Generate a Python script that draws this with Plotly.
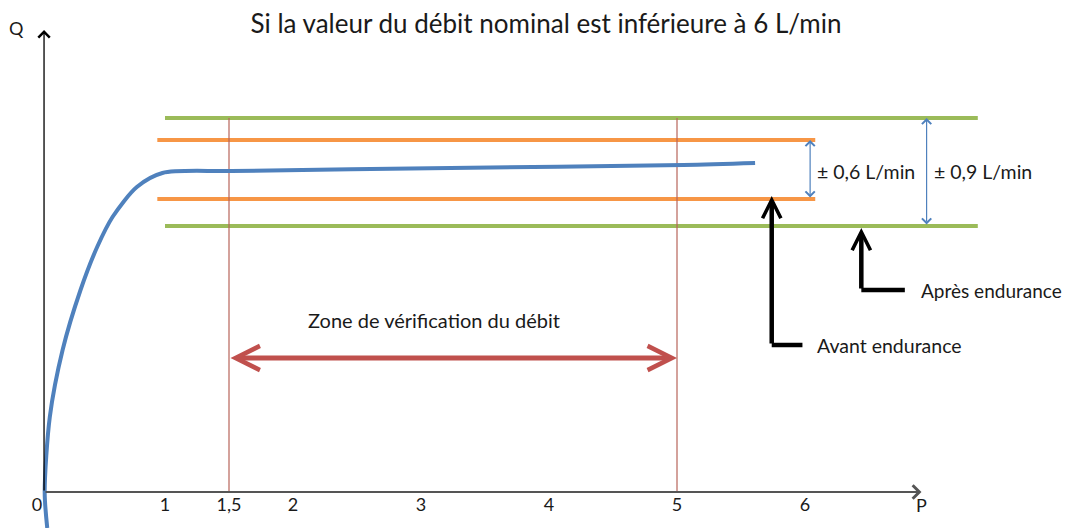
import plotly.graph_objects as go

# ---- data (schematic units) ----
tick_vals = [0, 1, 1.5, 2, 3, 4, 5, 6]
tick_text = ["0", "1", "1,5", "2", "3", "4", "5", "6"]

curve_p = [0.08, 0.06, 0.10, 0.20, 0.34, 0.47, 0.59, 0.78, 0.98, 1.52, 3.23, 5.05, 5.61]
curve_q = [-0.72, 0.0, 1.5, 2.84, 4.04, 4.9, 5.5, 6.1, 6.38, 6.42, 6.48, 6.54, 6.58]

green_q = [7.48, 5.32]          # après endurance (± 0,9 L/min)
green_p = [1.0, 7.35]
orange_q = [7.04, 5.86]         # avant endurance (± 0,6 L/min)
orange_p = [0.94, 6.08]

zone_p = [1.5, 5]               # zone de vérification du débit
zone_top = 7.48
zone_arrow_q = 2.68

tol_labels = ["± 0,6 L/min", "± 0,9 L/min"]
tol_arrow_p = [6.04, 6.95]
tol_label_p = [6.08, 6.99]
tol_label_q = 6.42

avant_p, avant_q_low, avant_q_tip, avant_p_end = 5.74, 2.94, 5.92, 5.98
apres_p, apres_q_low, apres_q_tip, apres_p_end = 6.44, 4.04, 5.28, 6.78

axis_p0 = 0.055
x_axis_end = 6.91
y_axis_end = 9.24

title = "Si la valeur du débit nominal est inférieure à 6 L/min"
zone_label = "Zone de vérification du débit"

GREEN = "#9bbb59"
ORANGE = "#f79646"
BLUE = "#4f81bd"
RED = "#c0504d"
FONT = "Lato"
TXT = "#1a1a1a"

# page body has an 8px margin: compensate so marks land where they should
OFF = 8
PX_X = 128.0
X0 = 37
PX_Y = 50.0
Y0 = 492

fig = go.Figure()

for q in green_q:
    fig.add_trace(go.Scatter(x=green_p, y=[q, q], mode="lines",
                             line=dict(color=GREEN, width=4), hoverinfo="skip"))
for q in orange_q:
    fig.add_trace(go.Scatter(x=orange_p, y=[q, q], mode="lines",
                             line=dict(color=ORANGE, width=4), hoverinfo="skip"))

for p in zone_p:
    fig.add_trace(go.Scatter(x=[p, p], y=[0, zone_top], mode="lines",
                             line=dict(color="#b8645a", width=1.2), hoverinfo="skip"))

fig.add_trace(go.Scatter(x=curve_p, y=curve_q, mode="lines",
                         line=dict(color=BLUE, width=4, shape="spline", smoothing=0.8),
                         hoverinfo="skip"))

fig.add_trace(go.Scatter(x=[avant_p, avant_p_end], y=[avant_q_low, avant_q_low], mode="lines",
                         line=dict(color="black", width=4.5), hoverinfo="skip"))
fig.add_trace(go.Scatter(x=[apres_p, apres_p_end], y=[apres_q_low, apres_q_low], mode="lines",
                         line=dict(color="black", width=4.5), hoverinfo="skip"))

ann = []

def arrow(x, y, ax, ay, color, width, head, size, side="end"):
    ann.append(dict(x=x, y=y, ax=ax, ay=ay, xref="x", yref="y", axref="x", ayref="y",
                    text="", showarrow=True, arrowhead=head, startarrowhead=head,
                    arrowsize=size, startarrowsize=size,
                    arrowwidth=width, arrowcolor=color, arrowside=side,
                    standoff=0, startstandoff=0))

arrow(x_axis_end, 0, axis_p0, 0, "#555555", 2, 4, 1.3)
arrow(axis_p0, y_axis_end, axis_p0, 0, "black", 1.3, 4, 1.7)

arrow(zone_p[1], zone_arrow_q, zone_p[0], zone_arrow_q, RED, 5, 5, 0.95, "end+start")

arrow(tol_arrow_p[0], orange_q[0], tol_arrow_p[0], orange_q[1], BLUE, 1.2, 4, 1.5, "end+start")
arrow(tol_arrow_p[1], green_q[0], tol_arrow_p[1], green_q[1], BLUE, 1.2, 4, 1.5, "end+start")

arrow(avant_p, avant_q_tip, avant_p, avant_q_low, "black", 4.5, 5, 0.8)
arrow(apres_p, apres_q_tip, apres_p, apres_q_low, "black", 4.5, 5, 0.8)

def label(x, y, text, size, xanchor="left"):
    ann.append(dict(x=x, y=y, xref="x", yref="y", text=text, showarrow=False,
                    xanchor=xanchor, yanchor="middle",
                    font=dict(family=FONT, size=size, color=TXT)))

for t, p in zip(tol_labels, tol_label_p):
    label(p, tol_label_q, t, 19.5)
label(6.89, apres_q_low, "Après endurance", 19)
label(6.08, avant_q_low, "Avant endurance", 19.5)
label(3.10, 3.44, zone_label, 20, "center")
label(-0.16, 9.28, "Q", 18, "center")
label(6.91, -0.26, "P", 18, "center")

fig.update_layout(
    width=1085, height=528,
    margin=dict(l=0, r=0, t=0, b=0),
    paper_bgcolor="white", plot_bgcolor="white",
    showlegend=False,
    title=dict(text=title, x=(546 - OFF) / 1085, xanchor="center",
               y=1 - (24 - OFF) / 528, yanchor="middle",
               font=dict(family=FONT, size=26, color=TXT)),
    annotations=ann,
    xaxis=dict(range=[(OFF - X0) / PX_X, (1085 + OFF - X0) / PX_X],
               showgrid=False, zeroline=False, showline=False,
               ticks="", tickvals=tick_vals, ticktext=tick_text,
               tickfont=dict(family=FONT, size=18, color=TXT),
               anchor="free", position=1 - (Y0 - OFF) / 528),
    yaxis=dict(range=[(Y0 - OFF - 528) / PX_Y, (Y0 - OFF) / PX_Y], visible=False),
)

fig.write_html("out.html")
